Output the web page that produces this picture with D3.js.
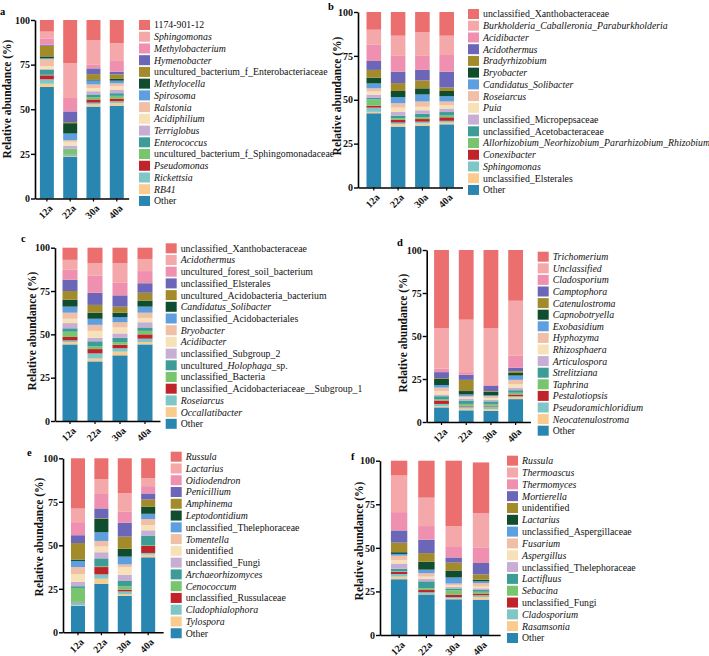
<!DOCTYPE html>
<html>
<head>
<meta charset="utf-8">
<script src="https://cdn.jsdelivr.net/npm/d3@7"></script>
<style>
  body { margin: 0; background: #fff; }
  svg { display: block; font-family: "Liberation Serif", "Times New Roman", serif; }
</style>
</head>
<body>
<svg id="chart" width="709" height="656"></svg>
<script>
// ---- data (% relative abundance) ----
const ages = ["12a", "22a", "30a", "40a"];
const yTicks = [0, 25, 50, 75, 100];

// legend order, top of stack first; *text* = italic
const taxaA = ["1174-901-12", "*Sphingomonas*", "*Methylobacterium*", "*Hymenobacter*",
  "uncultured_bacterium_f_Enterobacteriaceae", "*Methylocella*", "*Spirosoma*", "*Ralstonia*",
  "*Acidiphilium*", "*Terriglobus*", "*Enterococcus*", "uncultured_bacterium_f_Sphingomonadaceae",
  "*Pseudomonas*", "*Rickettsia*", "*RB41*", "Other"];
const valuesA = [
  [6.5, 24.2, 11.3, 13.0], [4.0, 19.5, 13.8, 10.0], [3.3, 7.5, 2.0, 6.0], [0.6, 6.0, 3.2, 1.5],
  [6.0, 0.6, 3.0, 2.5], [1.0, 5.8, 0.6, 1.0], [0.5, 3.8, 2.2, 1.5], [4.0, 0.8, 2.0, 1.5],
  [1.5, 2.2, 1.8, 2.0], [0.5, 1.8, 1.8, 2.0], [2.8, 0.3, 1.5, 1.5], [0.3, 2.8, 1.3, 1.5],
  [2.2, 0.2, 1.8, 1.5], [2.5, 0.7, 1.0, 1.0], [1.8, 0.3, 1.2, 1.5], [62.5, 23.5, 51.5, 52.0]
];

const taxaB = ["unclassified_Xanthobacteraceae", "*Burkholderia_Caballeronia_Paraburkholderia*",
  "*Acidibacter*", "*Acidothermus*", "*Bradyrhizobium*", "*Bryobacter*", "*Candidatus_Solibacter*",
  "*Roseiarcus*", "*Puia*", "unclassified_Micropepsaceae", "unclassified_Acetobacteraceae",
  "*Allorhizobium_Neorhizobium_Pararhizobium_Rhizobium*", "*Conexibacter*", "*Sphingomonas*",
  "unclassified_Elsterales", "Other"];
const valuesB = [
  [10.1, 13.5, 11.5, 13.5], [8.6, 11.5, 13.5, 11.0], [9.2, 9.0, 8.0, 9.5], [5.1, 6.5, 6.0, 9.0],
  [4.4, 4.5, 4.5, 2.0], [3.3, 3.5, 3.5, 3.0], [2.8, 3.5, 4.0, 3.0], [1.8, 2.5, 3.0, 2.0],
  [1.8, 2.5, 2.0, 2.0], [1.8, 2.0, 2.0, 2.0], [0.9, 1.5, 2.0, 2.0], [3.6, 1.0, 1.0, 1.0],
  [1.1, 1.5, 1.5, 2.0], [2.4, 1.0, 1.0, 1.0], [0.8, 1.3, 1.3, 1.0], [42.3, 34.7, 35.2, 36.0]
];

const taxaC = ["unclassified_Xanthobacteraceae", "*Acidothermus*", "uncultured_forest_soil_bacterium",
  "unclassified_Elsterales", "uncultured_Acidobacteria_bacterium", "*Candidatus_Solibacter*",
  "unclassified_Acidobacteriales", "*Bryobacter*", "*Acidibacter*", "unclassified_Subgroup_2",
  "uncultured_*Holophaga*_sp.", "unclassified_Bacteria", "unclassified_Acidobacteriaceae__Subgroup_1",
  "*Roseiarcus*", "*Occallatibacter*", "Other"];
const valuesC = [
  [7.0, 9.0, 9.0, 6.5], [5.5, 7.0, 11.0, 7.0], [6.0, 10.0, 7.5, 7.0], [6.5, 7.0, 6.5, 5.5],
  [5.0, 4.5, 3.5, 4.5], [4.0, 3.5, 2.5, 3.5], [3.5, 3.5, 3.0, 3.5], [3.5, 3.5, 3.0, 3.0],
  [2.5, 4.0, 3.5, 2.5], [3.0, 2.0, 2.5, 3.0], [2.0, 3.0, 2.5, 2.0], [3.0, 1.5, 1.5, 2.0],
  [2.0, 2.5, 2.0, 2.5], [1.0, 3.0, 2.0, 2.0], [1.3, 1.6, 2.1, 1.3], [44.2, 34.4, 37.9, 44.2]
];

const taxaD = ["*Trichomerium*", "*Unclassified*", "*Cladosporium*", "*Camptophora*", "*Catenulostroma*",
  "*Capnobotryella*", "*Exobasidium*", "*Hyphozyma*", "*Rhizosphaera*", "*Articulospora*",
  "*Strelitziana*", "*Taphrina*", "*Pestalotiopsis*", "*Pseudoramichloridium*",
  "*Neocatenulostroma*", "Other"];
const valuesD = [
  [45.5, 40.5, 45.5, 29.5], [23.5, 30.5, 33.0, 32.0], [2.0, 1.5, 0.5, 7.0], [3.5, 3.0, 3.0, 2.0],
  [0.5, 6.5, 0.5, 1.0], [3.5, 2.0, 2.0, 1.5], [1.5, 1.0, 0.5, 2.5], [2.0, 0.7, 1.0, 2.5],
  [2.0, 0.8, 1.0, 2.0], [1.0, 1.0, 1.0, 1.5], [1.7, 2.0, 1.5, 1.5], [0.8, 1.0, 1.0, 1.0],
  [2.0, 0.5, 0.5, 1.0], [1.3, 1.2, 1.5, 0.5], [0.7, 1.0, 1.0, 1.2], [8.5, 6.8, 6.5, 13.3]
];

const taxaE = ["*Russula*", "*Lactarius*", "*Oidiodendron*", "*Penicillium*", "*Amphinema*",
  "*Leptodontidium*", "unclassified_Thelephoraceae", "*Tomentella*", "unidentified",
  "unclassified_Fungi", "*Archaeorhizomyces*", "*Cenococcum*", "unclassified_Russulaceae",
  "*Cladophialophora*", "*Tylospora*", "Other"];
const valuesE = [
  [28.9, 12.0, 20.0, 11.5], [7.8, 8.5, 10.5, 4.5], [7.5, 8.3, 6.5, 4.2], [4.5, 5.6, 8.0, 3.5],
  [9.5, 0.3, 7.0, 4.2], [0.8, 7.8, 4.5, 4.0], [3.5, 5.0, 4.5, 3.0], [4.0, 3.2, 1.5, 3.5],
  [4.5, 3.3, 4.5, 3.0], [2.5, 3.5, 3.5, 3.0], [1.0, 4.5, 3.0, 5.5], [8.0, 0.5, 2.0, 0.5],
  [0.2, 4.2, 1.0, 4.0], [1.7, 2.5, 1.5, 1.0], [0.3, 3.0, 1.0, 1.5], [15.3, 27.8, 21.0, 43.1]
];

const taxaF = ["*Russula*", "*Thermoascus*", "*Thermomyces*", "*Mortierella*", "unidentified",
  "*Lactarius*", "unclassified_Aspergillaceae", "*Fusarium*", "*Aspergillus*",
  "unclassified_Thelephoraceae", "*Lactifluus*", "*Sebacina*", "unclassified_Fungi",
  "*Cladosporium*", "*Rasamsonia*", "Other"];
const valuesF = [
  [8.5, 21.2, 37.5, 29.2], [21.0, 16.3, 12.0, 19.5], [10.5, 7.8, 6.0, 9.0], [7.0, 7.7, 3.0, 6.5],
  [5.5, 5.0, 4.5, 3.0], [1.0, 4.5, 4.0, 1.0], [1.0, 2.0, 3.5, 1.0], [2.5, 2.0, 1.0, 2.0],
  [2.0, 1.2, 1.0, 1.0], [3.0, 1.5, 0.8, 1.0], [1.5, 4.0, 1.0, 1.0], [0.3, 1.0, 2.5, 1.0],
  [1.2, 1.3, 1.5, 1.0], [1.5, 0.9, 0.7, 1.0], [1.5, 0.3, 0.5, 1.5], [32.0, 23.3, 20.5, 20.3]
];

// same 16 colours in every panel, legend order
const palette = ["#EC6F6F", "#F4A8AA", "#EF90B0", "#6B66B8", "#A38B2C", "#0F4D2E", "#5E9FE0", "#F0BFA5",
  "#F7E1B8", "#C8ADD5", "#3D9D96", "#79C46F", "#C1232B", "#7FC6C6", "#FACB8E", "#2986B1"];

// ---- panel placement ----
const panels = [
  { letter: "a", taxa: taxaA, values: valuesA, axisX: 35, y0: 198.5, y100: 20, step: 23.3, outer: 0.21,
    legX: 139, legY: 25, legStep: 11.73, titleX: 7, titleY: 99, letterX: 0, letterY: 15 },
  { letter: "b", taxa: taxaB, values: valuesB, axisX: 358, y0: 187.5, y100: 12, step: 24.3, outer: 0.35,
    legX: 468, legY: 14, legStep: 11.73, titleX: 337, titleY: 96, letterX: 328, letterY: 10 },
  { letter: "c", taxa: taxaC, values: valuesC, axisX: 55, y0: 421, y100: 247.7, step: 25, outer: 0.3,
    legX: 165.7, legY: 248.3, legStep: 11.7, titleX: 32, titleY: 331, letterX: 21, letterY: 242 },
  { letter: "d", taxa: taxaD, values: valuesD, axisX: 426.7, y0: 422, y100: 250, step: 24.7, outer: 0.3,
    legX: 537.7, legY: 256.7, legStep: 11.6, titleX: 403, titleY: 333, letterX: 397, letterY: 246 },
  { letter: "e", taxa: taxaE, values: valuesE, axisX: 63, y0: 632.3, y100: 458.3, step: 23.4, outer: 0.34,
    legX: 170.7, legY: 456.7, legStep: 11.77, titleX: 39, titleY: 537, letterX: 27, letterY: 456 },
  { letter: "f", taxa: taxaF, values: valuesF, axisX: 380, y0: 635, y100: 460.7, step: 27.3, outer: 0.4,
    legX: 507, legY: 460.7, legStep: 11.82, titleX: 359, titleY: 541, letterX: 351, letterY: 460 }
];

const svg = d3.select("#chart");

// write "*italic*" pieces as tspans
function richText(sel, label) {
  label.split("*").forEach((part, i) => {
    if (!part) return;
    sel.append("tspan").attr("font-style", i % 2 ? "italic" : "normal").text(part);
  });
}

function drawPanel(p) {
  const innerPad = 0.4;
  const width = p.step * (ages.length - innerPad + 2 * p.outer);

  const x = d3.scaleBand()
    .domain(ages)
    .range([p.axisX, p.axisX + width])
    .paddingInner(innerPad)
    .paddingOuter(p.outer);

  const y = d3.scaleLinear().domain([0, 100]).range([p.y0, p.y100]);

  const color = d3.scaleOrdinal().domain(p.taxa).range(palette);

  // rows for d3.stack, one per age
  const table = ages.map((age, j) => {
    const row = { age: age };
    p.taxa.forEach((t, i) => { row[t] = p.values[i][j]; });
    return row;
  });

  // Other sits at the bottom, so stack in reverse legend order
  const series = d3.stack().keys(p.taxa.slice().reverse())(table);

  const g = svg.append("g");

  g.selectAll(".layer")
      .data(series)
    .join("g")
      .attr("fill", d => color(d.key))
    .selectAll("rect")
    .data(d => d)
    .join("rect")
      .attr("x", d => x(d.data.age))
      .attr("width", x.bandwidth())
      .attr("y", d => y(d[1]))
      .attr("height", d => y(d[0]) - y(d[1]));

  // y axis
  const yAxis = g.append("g")
    .attr("transform", `translate(${p.axisX},0)`)
    .call(d3.axisLeft(y).tickValues(yTicks).tickSize(4).tickSizeOuter(0));
  yAxis.select(".domain").attr("stroke-width", 1.6);
  yAxis.selectAll(".tick line").attr("stroke-width", 1.4);
  yAxis.selectAll(".tick text")
    .attr("font-family", "Liberation Serif")
    .attr("font-size", 10)
    .attr("font-weight", "bold")
    .attr("fill", "#111")
    .attr("x", -5);

  // x axis
  const xAxis = g.append("g")
    .attr("transform", `translate(0,${p.y0})`)
    .call(d3.axisBottom(x).tickSize(3).tickSizeOuter(0));
  xAxis.select(".domain").attr("stroke-width", 1.6);
  xAxis.selectAll(".tick line").attr("stroke-width", 1.2);
  xAxis.selectAll(".tick text")
    .attr("font-family", "Liberation Serif")
    .attr("font-size", 10)
    .attr("font-weight", "bold")
    .attr("fill", "#111")
    .attr("x", 0).attr("y", 0).attr("dy", "0.35em")
    .attr("text-anchor", "end")
    .attr("transform", "translate(4,8) rotate(-45)");

  // axis title
  g.append("text")
    .attr("transform", `translate(${p.titleX},${p.titleY}) rotate(-90)`)
    .attr("text-anchor", "middle")
    .attr("dy", "0.35em")
    .attr("font-size", 11.5)
    .attr("font-weight", "bold")
    .attr("fill", "#111")
    .text("Relative abundance (%)");

  // panel letter
  g.append("text")
    .attr("x", p.letterX).attr("y", p.letterY)
    .attr("font-size", 10.5)
    .attr("font-weight", "bold")
    .text(p.letter);

  // legend
  const leg = g.append("g");
  const item = leg.selectAll(".item")
      .data(p.taxa)
    .join("g")
      .attr("transform", (d, i) => `translate(${p.legX},${p.legY + i * p.legStep})`);

  item.append("rect")
    .attr("x", 0).attr("y", -5)
    .attr("width", 11).attr("height", 10)
    .attr("fill", d => color(d));

  item.append("text")
    .attr("x", 15).attr("y", 0).attr("dy", "0.35em")
    .attr("font-size", 9.8)
    .attr("fill", "#111")
    .each(function (d) { richText(d3.select(this), d); });
}

panels.forEach(drawPanel);
</script>
</body>
</html>
